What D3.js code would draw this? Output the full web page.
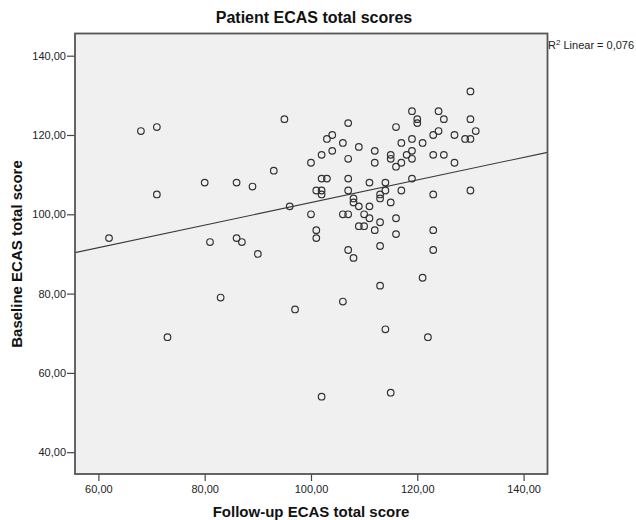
<!DOCTYPE html>
<html>
<head>
<meta charset="utf-8">
<script src="https://cdn.jsdelivr.net/npm/d3@7"></script>
<style>
  html, body { margin: 0; padding: 0; background: #ffffff; }
  svg { display: block; font-family: "Liberation Sans", Arial, sans-serif; }
</style>
</head>
<body>
<svg id="chart" width="636" height="520"></svg>
<script>
// ---- Data ----
const followUp = [62,68,71,71,73,80,81,83,86,86,87,89,90,93,95,96,97,100,100,101,101,101,102,102,102,102,102,103,103,104,104,106,106,106,107,107,107,107,107,107,108,108,108,109,109,109,110,110,111,111,111,112,112,112,113,113,113,113,113,114,114,114,115,115,115,115,116,116,116,116,117,117,117,118,119,119,119,119,119,120,120,121,121,122,123,123,123,123,123,124,124,125,125,127,127,129,130,130,130,130,131];
const baseline = [94,121,122,105,69,108,93,79,108,94,93,107,90,111,124,102,76,113,100,106,96,94,106,105,115,109,54,109,119,120,116,118,100,78,123,114,109,106,100,91,104,103,89,117,102,97,100,97,108,102,99,116,113,96,105,104,98,92,82,108,106,71,115,114,103,55,122,112,99,95,118,113,106,115,126,119,116,114,109,124,123,118,84,69,120,115,105,96,91,126,121,124,115,120,113,119,131,124,119,106,121];
const xTicks = [60, 80, 100, 120, 140];
const yTicks = [40, 60, 80, 100, 120, 140];
const fitIntercept = 74.5;   // linear fit line: baseline = a + b * followUp
const fitSlope = 0.2846;
const titleText = "Patient ECAS total scores";
const xLabel = "Follow-up ECAS total score";
const yLabel = "Baseline ECAS total score";
const r2Label = "0,076";

// ---- Layout ----
const svg = d3.select("#chart");
const plot = { left: 75, right: 547.5, top: 33.5, bottom: 474 };
const x = d3.scaleLinear().domain([55.6, 144.5]).range([plot.left, plot.right]);
const y = d3.scaleLinear().domain([34.5, 145.6]).range([plot.bottom, plot.top]);
const fmt = d => d3.format(".2f")(d).replace(".", ",");

// plot background
svg.append("rect")
  .attr("x", plot.left).attr("y", plot.top)
  .attr("width", plot.right - plot.left).attr("height", plot.bottom - plot.top)
  .attr("fill", "#f0f0f0");

svg.append("clipPath").attr("id", "clip")
  .append("rect")
  .attr("x", plot.left).attr("y", plot.top)
  .attr("width", plot.right - plot.left).attr("height", plot.bottom - plot.top);

// fit line
const [x0, x1] = x.domain();
svg.append("line")
  .attr("clip-path", "url(#clip)")
  .attr("x1", x(x0)).attr("y1", y(fitIntercept + fitSlope * x0))
  .attr("x2", x(x1)).attr("y2", y(fitIntercept + fitSlope * x1))
  .attr("stroke", "#3a3a3a").attr("stroke-width", 1.1);

// points
const pts = followUp.map((v, i) => ({ fx: v, by: baseline[i] }));
svg.append("g").attr("clip-path", "url(#clip)")
  .selectAll("circle").data(pts).join("circle")
  .attr("cx", d => x(d.fx)).attr("cy", d => y(d.by))
  .attr("r", 3.3)
  .attr("fill", "none").attr("stroke", "#333").attr("stroke-width", 1.2);

// axes
const xAxis = svg.append("g")
  .attr("transform", `translate(0,${plot.bottom})`)
  .call(d3.axisBottom(x).tickValues(xTicks).tickFormat(fmt).tickSize(7).tickPadding(4));
const yAxis = svg.append("g")
  .attr("transform", `translate(${plot.left},0)`)
  .call(d3.axisLeft(y).tickValues(yTicks).tickFormat(fmt).tickSize(8).tickPadding(1));
[xAxis, yAxis].forEach(g => {
  g.select(".domain").remove();
  g.selectAll(".tick line").attr("stroke", "#444").attr("stroke-width", 1.2);
  g.selectAll(".tick text").attr("fill", "#222")
    .style("font-family", '"Liberation Sans", Arial, sans-serif').style("font-size", "11px");
});

// frame
svg.append("rect")
  .attr("x", plot.left).attr("y", plot.top)
  .attr("width", plot.right - plot.left).attr("height", plot.bottom - plot.top)
  .attr("fill", "none").attr("stroke", "#555").attr("stroke-width", 1.8);

// title
svg.append("text")
  .attr("x", 314).attr("y", 22.5)
  .attr("text-anchor", "middle")
  .style("font-size", "16px").style("font-weight", "bold").attr("fill", "#111")
  .text(titleText);

// x label
svg.append("text")
  .attr("x", 311).attr("y", 516.5)
  .attr("text-anchor", "middle")
  .style("font-size", "15px").style("font-weight", "bold").attr("fill", "#111")
  .text(xLabel);

// y label
svg.append("text")
  .attr("transform", "translate(22,254) rotate(-90)")
  .attr("text-anchor", "middle")
  .style("font-size", "15px").style("font-weight", "bold").attr("fill", "#111")
  .text(yLabel);

// R² label
const r2 = svg.append("text")
  .attr("x", 548).attr("y", 48.5)
  .style("font-size", "11px").attr("fill", "#222");
r2.append("tspan").text("R");
r2.append("tspan").attr("dy", -4).style("font-size", "8px").text("2");
r2.append("tspan").attr("dy", 4).text(" Linear = " + r2Label);
</script>
</body>
</html>
